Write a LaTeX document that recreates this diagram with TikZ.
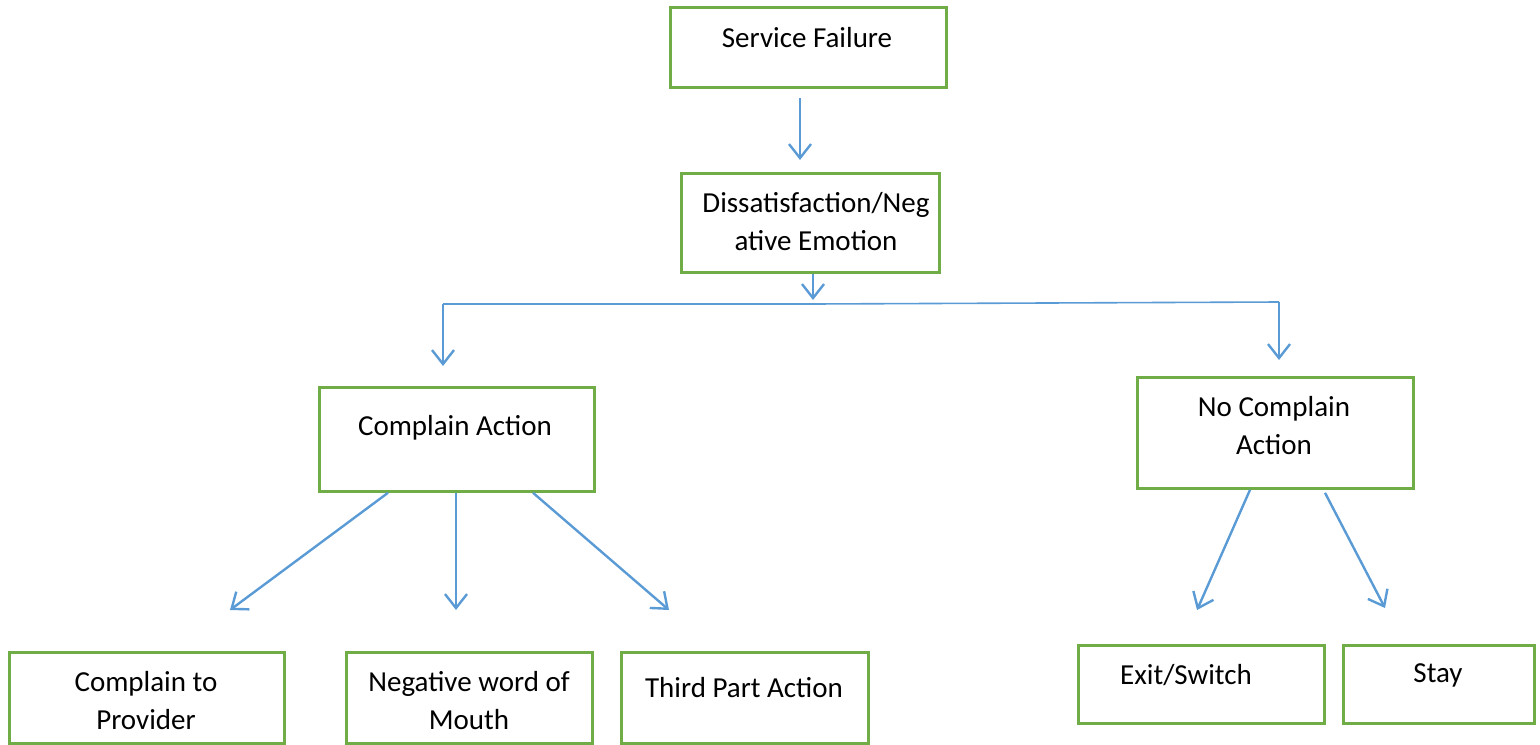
\documentclass[tikz,border=0pt]{standalone}
\usepackage{fontspec}
\setmainfont{Carlito}
\usetikzlibrary{arrows.meta}
\definecolor{boxgreen}{HTML}{70AD47}
\definecolor{arrowblue}{HTML}{5B9BD5}
\tikzset{
  box/.style={draw=boxgreen, line width=1.4pt, anchor=north west, inner sep=0pt},
  txt/.style={font=\fontsize{14.5}{19}\selectfont, align=center, inner sep=0pt},
  conn/.style={draw=arrowblue, line width=1.2pt, -{Straight Barb[length=7pt,width=11pt,line width=1.2pt]}},
  thin/.style={draw=arrowblue, line width=0.8pt}
}
\begin{document}
\begin{tikzpicture}[x=0.5pt,y=-0.5pt]
\useasboundingbox (0,0) rectangle (1540,744);
% boxes
\node[box, minimum width=138pt, minimum height=40pt] (sf) at (669,6) {};
\node[box, minimum width=129pt, minimum height=49.5pt] (dis) at (680,172) {};
\node[box, minimum width=137.5pt, minimum height=52pt] (ca) at (318,386) {};
\node[box, minimum width=138pt, minimum height=55.5pt] (nca) at (1136,376) {};
\node[box, minimum width=137.5pt, minimum height=45.5pt] (cp) at (8,651) {};
\node[box, minimum width=123pt, minimum height=45.5pt] (nw) at (345,651) {};
\node[box, minimum width=123.5pt, minimum height=45.5pt] (tp) at (620,651) {};
\node[box, minimum width=123pt, minimum height=39pt] (ex) at (1077,644) {};
\node[box, minimum width=95.5pt, minimum height=39pt] (st) at (1342,644) {};
% texts
\node[txt] (sft) at (807,38) {Service Failure};
\node[txt] (dist) at (816,222) {Dissatisfaction/Neg\\ative Emotion};
\node[txt] (cat) at (455,428) {Complain Action};
\node[txt] (ncat) at (1274,426) {No Complain\\Action};
\node[txt] (cpt) at (146,701) {Complain to\\Provider};
\node[txt] (nwt) at (469,701) {Negative word of\\Mouth};
\node[txt] (tpt) at (744,688) {Third Part Action};
\node[txt] (ext) at (1186,675) {Exit/Switch};
\node[txt] (stt) at (1438,675) {Stay};
% connector coordinates
\coordinate (a1s) at (800,98);  \coordinate (a1e) at (800,160);
\coordinate (b0s) at (dis.south -| 813,0); \coordinate (b0e) at (813,300);
\coordinate (bl) at (443,304); \coordinate (br) at (1279,302);
\coordinate (ble) at (443,366); \coordinate (bre) at (1279,360);
\coordinate (c1e) at (230,610); \coordinate (c2e) at (456,610); \coordinate (c3e) at (669,610);
\coordinate (n1e) at (1197,610); \coordinate (n2e) at (1385,608);
% connectors
\draw[conn] (a1s) -- (a1e);
\draw[conn] (b0s) -- (b0e);
\draw[thin] (bl) -- (813,304) -- (br);
\draw[conn] (bl) -- (ble);
\draw[conn] (br) -- (bre);
\draw[conn] (ca.south -| 388,0) -- (c1e);
\draw[conn] (ca.south -| 456,0) -- (c2e);
\draw[conn] (ca.south -| 533,0) -- (c3e);
\draw[conn] (nca.south -| 1250,0) -- (n1e);
\draw[conn] ([yshift=-1.5pt]nca.south -| 1325,0) -- (n2e);
\end{tikzpicture}
\end{document}
